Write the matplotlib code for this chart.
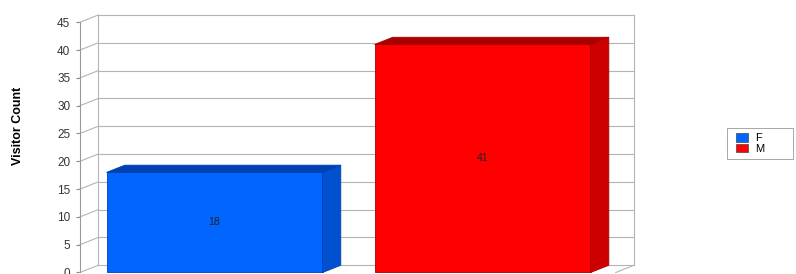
import numpy as np
import matplotlib.pyplot as plt
from matplotlib.patches import Polygon, Patch, Rectangle

plt.rcParams['font.family'] = ['Liberation Sans', 'DejaVu Sans']

categories = ['F', 'M']
counts = [18, 41]
front_colors = ['#0066ff', '#ff0000']
top_colors = ['#0040b0', '#a80000']
side_colors = ['#0050d0', '#cc0000']
y_ticks = [0, 5, 10, 15, 20, 25, 30, 35, 40, 45]

# pseudo-3d depth offsets (data units)
dx, dy = 0.068, 1.3
width = 0.806

fig = plt.figure(figsize=(7.96, 2.74), dpi=100)
ax = fig.add_axes([80 / 796, 0, 554 / 796, 1])
ax.set_xlim(-0.502, 1.565)
ax.set_ylim(-0.27, 49.0)
for s in ax.spines.values():
    s.set_visible(False)
ax.set_xticks([])
ax.set_yticks(y_ticks)
ax.tick_params(axis='y', length=3, color='#888888', labelsize=8.5, labelcolor='#333333', pad=4)

x0, x1 = ax.get_xlim()
grid_c = '#b4b4b4'
# back wall + left wall grid
for t in y_ticks:
    ax.plot([x0, x0 + dx], [t, t + dy], color=grid_c, lw=0.8, clip_on=False)
    ax.plot([x0 + dx, x1], [t + dy, t + dy], color=grid_c, lw=0.8, clip_on=False)
ax.plot([x0 + dx, x0 + dx], [dy, 45 + dy], color=grid_c, lw=0.8)
ax.plot([x1, x1], [dy, 45 + dy], color=grid_c, lw=0.8, clip_on=False)
ax.plot([x0, x0], [0, 45], color='#999999', lw=0.8, clip_on=False)
ax.plot([x1 - dx, x1], [0, dy], color=grid_c, lw=0.8, clip_on=False)

xs = np.arange(len(categories))
bars = ax.bar(xs, counts, width=width, color=front_colors, edgecolor=top_colors, lw=0.6, zorder=3)
for i, (x, v) in enumerate(zip(xs, counts)):
    l, r = x - width / 2, x + width / 2
    top = Polygon([[l, v], [l + dx, v + dy], [r + dx, v + dy], [r, v]],
                  closed=True, fc=top_colors[i], ec=top_colors[i], lw=0.6, zorder=3)
    side = Polygon([[r, 0], [r + dx, dy], [r + dx, v + dy], [r, v]],
                   closed=True, fc=side_colors[i], ec=top_colors[i], lw=0.6, zorder=3)
    ax.add_patch(top)
    ax.add_patch(side)
    ax.text(x, v / 2, str(v), ha='center', va='center', fontsize=7.5, color='#222222', zorder=4)

fig.text(18 / 796, 1 - 126 / 274, 'Visitor Count', rotation=90, ha='center', va='center',
         fontsize=9, fontweight='bold', family=['Liberation Sans Narrow', 'Liberation Sans'])

# legend frame
fig.patches.append(Rectangle((727 / 796, 1 - 159 / 274), 66 / 796, 31 / 274, transform=fig.transFigure,
                             fill=False, ec='#999999', lw=0.6))
handles = [Patch(facecolor=c, edgecolor='#444444', lw=0.5) for c in front_colors]
leg = fig.legend(handles, categories, loc='upper left', bbox_to_anchor=(734 / 796, 1 - 131 / 274),
                 fontsize=8, frameon=False, handlelength=1.1, handleheight=0.8,
                 handletextpad=0.6, labelspacing=0.05, borderpad=0.2, borderaxespad=0)

fig.savefig('out.png', dpi=100)
